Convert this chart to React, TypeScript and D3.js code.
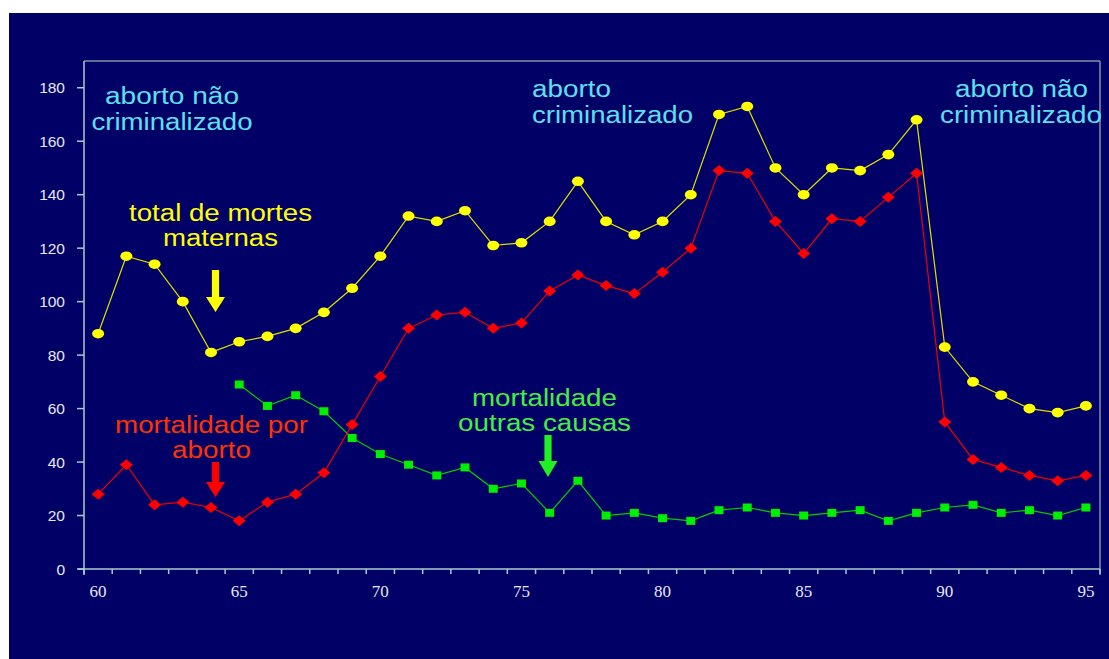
import React from "react";
import * as d3 from "d3";

const years = d3.range(60, 96);
const totalDeaths = [88, 117, 114, 100, 81, 85, 87, 90, 96, 105, 117, 132, 130, 134, 121, 122, 130, 145, 130, 125, 130, 140, 170, 173, 150, 140, 150, 149, 155, 168, 83, 70, 65, 60, 58.5, 61];
const abortionDeaths = [28, 39, 24, 25, 23, 18, 25, 28, 36, 54, 72, 90, 95, 96, 90, 92, 104, 110, 106, 103, 111, 120, 149, 148, 130, 118, 131, 130, 139, 148, 55, 41, 38, 35, 33, 35];
const otherYears = d3.range(65, 96);
const otherDeaths = [69, 61, 65, 59, 49, 43, 39, 35, 38, 30, 32, 21, 33, 20, 21, 19, 18, 22, 23, 21, 20, 21, 22, 18, 21, 23, 24, 21, 22, 20, 23];
const yTicks = [0, 20, 40, 60, 80, 100, 120, 140, 160, 180];
const xLabelYears = [60, 65, 70, 75, 80, 85, 90, 95];

const SANS = "'Liberation Sans', Arial, sans-serif";
const SERIF = "'Liberation Serif', 'Times New Roman', serif";

type Line = { text: string; x: number; y: number; w: number; anchor: "start" | "middle" };

const Label = ({ lines, color }: { lines: Line[]; color: string }) => (
  <g fill={color} fontFamily={SANS} fontSize={23}>
    {lines.map((l, i) => (
      <text key={i} x={l.x} y={l.y} textAnchor={l.anchor} textLength={l.w} lengthAdjust="spacingAndGlyphs">
        {l.text}
      </text>
    ))}
  </g>
);

const Arrow = ({ cx, top, headTop, tip, color }: { cx: number; top: number; headTop: number; tip: number; color: string }) => {
  const sw = 3.6;
  const hw = 9.5;
  const p = [
    [cx - sw, top], [cx + sw, top], [cx + sw, headTop], [cx + hw, headTop],
    [cx, tip], [cx - hw, headTop], [cx - sw, headTop],
  ];
  return <polygon points={p.map((q) => q.join(",")).join(" ")} fill={color} />;
};

export default function App() {
  const x = d3.scaleLinear().domain([59.5, 95.5]).range([84, 1100]);
  const y = d3.scaleLinear().domain([0, 190]).range([569, 61]);
  const [x0, x1] = x.range();
  const [yb, yt] = y.range();

  const totalData = years.map((yr, i) => [yr, totalDeaths[i]] as [number, number]);
  const abortData = years.map((yr, i) => [yr, abortionDeaths[i]] as [number, number]);
  const otherData = otherYears.map((yr, i) => [yr, otherDeaths[i]] as [number, number]);
  const line = d3.line<[number, number]>().x((d) => x(d[0])).y((d) => y(d[1]));
  const boundaries = d3.range(59.5, 96, 1);

  return (
    <svg width={1109} height={659} style={{ position: "absolute", left: 0, top: 0 }}>
      <rect x={0} y={0} width={1109} height={659} fill="#ffffff" />
      <rect x={9} y={13} width={1100} height={646} fill="#000066" />

      {/* frame */}
      <line x1={x0} x2={x1} y1={yt} y2={yt} stroke="#8092a8" strokeWidth={1.5} />
      <line x1={x1} x2={x1} y1={yt} y2={yb + 6} stroke="#8092a8" strokeWidth={1.5} />

      {/* y axis */}
      <line x1={x0} x2={x0} y1={yt} y2={yb + 6} stroke="#a8cccc" strokeWidth={1.5} />
      {yTicks.map((t) => (
        <g key={t}>
          <line x1={x0 - 7} x2={x0} y1={y(t)} y2={y(t)} stroke="#a8cccc" strokeWidth={1.5} />
          <text x={65} y={y(t) + 5.5} textAnchor="end" fill="#e8e8f4" fontFamily={SANS} fontSize={15.5}>
            {t}
          </text>
        </g>
      ))}

      {/* x axis */}
      <line x1={x0 - 6} x2={x1} y1={yb} y2={yb} stroke="#a8cccc" strokeWidth={1.5} />
      {boundaries.map((b) => (
        <line key={b} x1={x(b)} x2={x(b)} y1={yb} y2={yb + 5} stroke="#a8cccc" strokeWidth={1.5} />
      ))}
      {xLabelYears.map((t) => (
        <text key={t} x={x(t)} y={597} textAnchor="middle" fill="#e8e8f4" fontFamily={SERIF} fontSize={17}>
          {t}
        </text>
      ))}

      {/* series lines */}
      <path d={line(otherData) || ""} fill="none" stroke="#00cc00" strokeWidth={1.2} />
      <path d={line(totalData) || ""} fill="none" stroke="#e0e000" strokeWidth={1.2} />
      <path d={line(abortData) || ""} fill="none" stroke="#ee0000" strokeWidth={1.2} />

      {/* markers */}
      {otherData.map((d, i) => (
        <rect key={"g" + i} x={x(d[0]) - 4.5} y={y(d[1]) - 4} width={9} height={8} fill="#00ee00" />
      ))}
      {totalData.map((d, i) => (
        <ellipse key={"y" + i} cx={x(d[0])} cy={y(d[1])} rx={6} ry={4.8} fill="#ffff00" />
      ))}
      {abortData.map((d, i) => {
        const cx = x(d[0]);
        const cy = y(d[1]);
        return (
          <polygon
            key={"r" + i}
            points={`${cx - 6.5},${cy} ${cx},${cy - 5.5} ${cx + 6.5},${cy} ${cx},${cy + 5.5}`}
            fill="#ff0000"
          />
        );
      })}

      {/* annotations */}
      <Label
        color="#5ce0f0"
        lines={[
          { text: "aborto não", x: 172, y: 104, w: 134, anchor: "middle" },
          { text: "criminalizado", x: 172, y: 130, w: 161, anchor: "middle" },
        ]}
      />
      <Label
        color="#5ce0f0"
        lines={[
          { text: "aborto", x: 532, y: 97, w: 79, anchor: "start" },
          { text: "criminalizado", x: 532, y: 123, w: 161, anchor: "start" },
        ]}
      />
      <Label
        color="#5ce0f0"
        lines={[
          { text: "aborto não", x: 1021.5, y: 97, w: 133, anchor: "middle" },
          { text: "criminalizado", x: 1021, y: 123, w: 162, anchor: "middle" },
        ]}
      />
      <Label
        color="#ffff00"
        lines={[
          { text: "total de mortes", x: 220.5, y: 221, w: 183, anchor: "middle" },
          { text: "maternas", x: 220.5, y: 246, w: 115, anchor: "middle" },
        ]}
      />
      <Arrow cx={215.5} top={270} headTop={297} tip={312} color="#ffff00" />
      <Label
        color="#ff3300"
        lines={[
          { text: "mortalidade por", x: 211.5, y: 433, w: 193, anchor: "middle" },
          { text: "aborto", x: 211.5, y: 458, w: 79, anchor: "middle" },
        ]}
      />
      <Arrow cx={215.5} top={462} headTop={482} tip={497} color="#ff0000" />
      <Label
        color="#44ee44"
        lines={[
          { text: "mortalidade", x: 544.5, y: 406, w: 145, anchor: "middle" },
          { text: "outras causas", x: 544.5, y: 431, w: 173, anchor: "middle" },
        ]}
      />
      <Arrow cx={548} top={435} headTop={461} tip={477} color="#22ee22" />
    </svg>
  );
}
